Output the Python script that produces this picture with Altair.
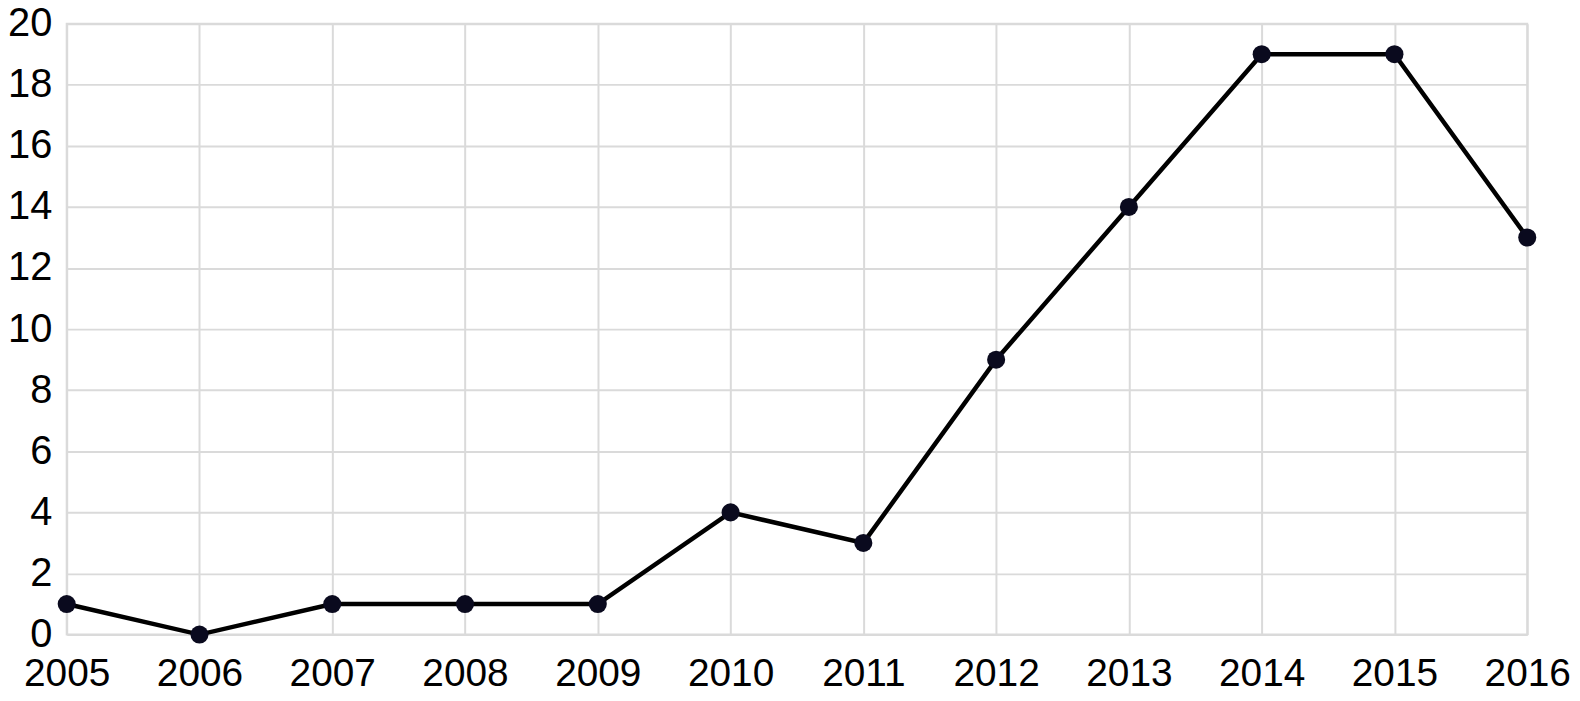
import altair as alt
import pandas as pd

years = [2005, 2006, 2007, 2008, 2009, 2010, 2011, 2012, 2013, 2014, 2015, 2016]
values = [1, 0, 1, 1, 1, 4, 3, 9, 14, 19, 19, 13]
y_ticks = [0, 2, 4, 6, 8, 10, 12, 14, 16, 18, 20]

df = pd.DataFrame({"year": years, "value": values})

x = alt.X("year:Q", scale=alt.Scale(domain=[2005, 2016], nice=False, zero=False),
          axis=alt.Axis(values=years, format="d", title=None, labelPadding=20,
                        labelFontSize=39,
                        labelFlush=False, labelOverlap=False, labelBound=False))
y = alt.Y("value:Q", scale=alt.Scale(domain=[0, 20], nice=False),
          axis=alt.Axis(values=y_ticks, title=None, labelPadding=15,
                        labelFlush=False, labelOverlap=False, labelBound=False))

line = alt.Chart(df).mark_line(color="#000000", strokeWidth=4.5).encode(x=x, y=y)
pts = alt.Chart(df).mark_circle(color="#0a0a1e", opacity=1, size=330).encode(x=x, y=y)

chart = (line + pts).properties(
    width=1468, height=614,
    autosize=alt.AutoSizeParams(type="none"),
    padding={"left": 59, "top": 14, "right": 45, "bottom": 64},
).configure_axis(
    grid=True, gridColor="#dadada", gridWidth=2, domain=False, ticks=False,
    labelFont="Liberation Sans", labelFontSize=40, labelColor="#000000",
).configure_view(stroke="#dadada", strokeWidth=2)

chart.save("out.html", embed_options={"renderer": "svg", "actions": False})
